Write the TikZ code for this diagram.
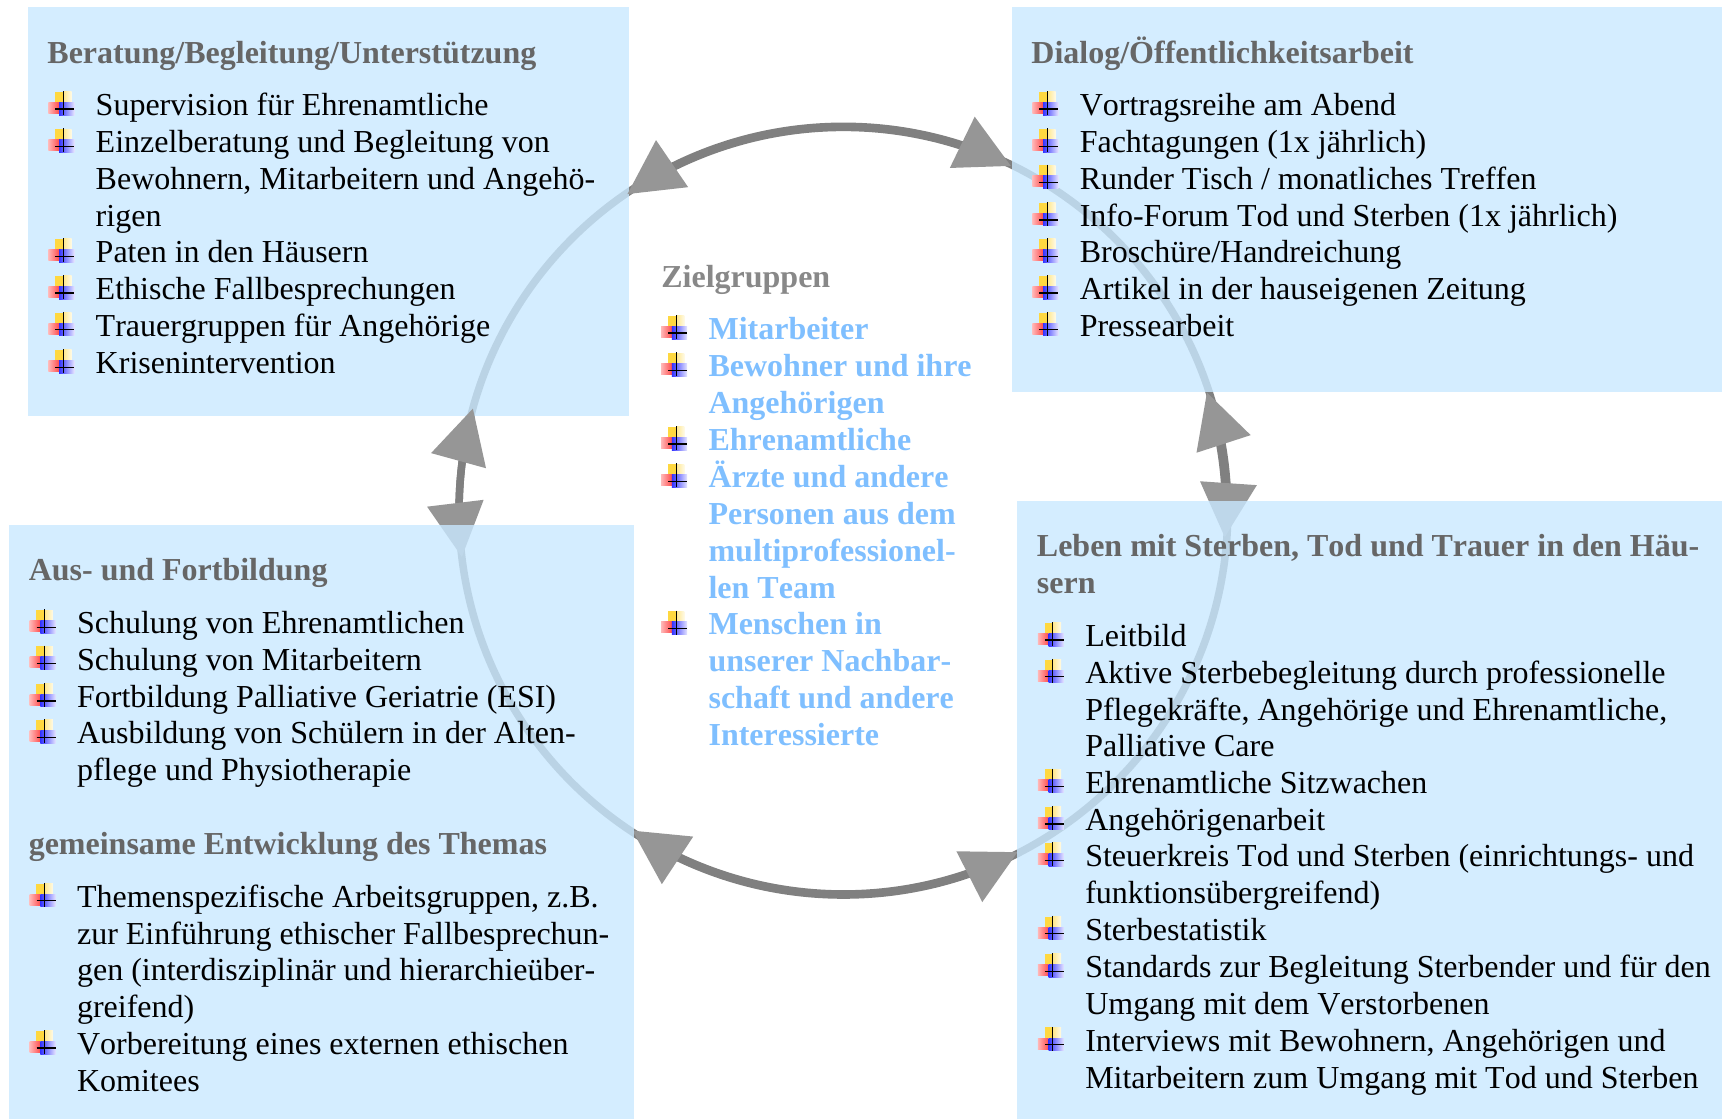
\documentclass[tikz,border=0pt]{standalone}
\usepackage{fontspec}
\setmainfont[Kerning=Off]{Liberation Serif}
\usetikzlibrary{arrows.meta,bending,fit}
\definecolor{boxfill}{HTML}{C9E8FF}
\definecolor{shaftgray}{HTML}{808080}
\definecolor{headgray}{HTML}{969696}
\definecolor{titlegray}{HTML}{666666}
\definecolor{ziel}{HTML}{888888}
\definecolor{zielblue}{HTML}{7FBFFF}
\definecolor{byel}{HTML}{FFD840}
\tikzset{
  x=1.0982pt,y=-1.0982pt,
  panel/.style={fill=boxfill,fill opacity=.8,draw=none,inner sep=0pt},
  ring/.style={draw=shaftgray,line width=7.5pt},
  conn/.style={draw=shaftgray,line width=7.5pt,arrows={Triangle[length=54pt,width=57pt,color=headgray,line width=0pt,flex=0]-Triangle[length=54pt,width=57pt,color=headgray,line width=0pt,flex=0]}},
  txt/.style={inner sep=0pt,anchor=north west,yshift=30pt,align=left,font=\fontsize{32}{36.8}\selectfont},
  head/.style={txt,font=\fontsize{32}{36.8}\selectfont\bfseries,text=titlegray},
  bul/.pic={
    \begin{scope}[shift={(-29.3,-5.7)},scale=.91]
      \fill[byel] (-8.3,-17.3) rectangle (0,-6.7);
      \shade[left color=byel!60!white,right color=byel!12!white] (0,-17.3) rectangle (8.3,-6.7);
      \shade[left color=red!28!white,right color=red!70!white] (-15,-6.7) rectangle (-4.3,4.3);
      \shade[left color=blue!80!white,right color=blue!10!white] (-4.3,-6.7) rectangle (11,6);
      \draw[black,line width=1.2pt] (0,-18) -- (0,6);
      \draw[black,line width=1.2pt] (-8,0) -- (11,0);
    \end{scope}
  }
}
\newcommand{\itm}[5][black]{%
  \pic at (#3,#4) {bul};
  \node[txt,text=#1] (#2) at (#3,#4) {\rule{0pt}{30pt}#5};
}
\newcommand{\ttl}[5][titlegray]{%
  \node[head,text=#1] (#2) at (#3,#4) {\rule{0pt}{30pt}#5};
}
\begin{document}
\begin{tikzpicture}
\useasboundingbox (0,0) rectangle (1568,1019);
\coordinate (ctr) at (768,465);
\draw[ring] (ctr) circle[radius=350];
\node[panel,fit={(25.5,6.4)(572.8,378.5)}] (tlbox) {};
\node[panel,fit={(921.5,6.4)(1568,356.7)}] (trbox) {};
\coordinate (t1) at ([shift={(-124.3:349)}]ctr);
\coordinate (r1) at ([shift={(-18:348)}]ctr);
\coordinate (b1) at ([shift={(63:349)}]ctr);
\coordinate (l1) at ([shift={(173.1:350)}]ctr);
\draw[conn] (t1) arc[start angle=-124.3,end angle=-64.1,radius=349];
\draw[conn] (r1) arc[start angle=-18,end angle=3.9,radius=349];
\draw[conn] (b1) arc[start angle=63,end angle=123.4,radius=349];
\draw[conn] (l1) arc[start angle=173.1,end angle=195.4,radius=350];
\node[panel,fit={(8,478)(577,1019)}] (blbox) {};
\node[panel,fit={(926,456.3)(1568,1019)}] (brbox) {};
% top left
\ttl{tlt}{43}{58}{Beratung/Begleitung/Unterstützung}
\itm{tla}{87}{105}{Supervision für Ehrenamtliche}
\itm{tlb}{87}{139}{Einzelberatung und Begleitung von\\Bewohnern, Mitarbeitern und Angehö-\\rigen}
\itm{tlc}{87}{239}{Paten in den Häusern}
\itm{tld}{87}{272.5}{Ethische Fallbesprechungen}
\itm{tle}{87}{306}{Trauergruppen für Angehörige}
\itm{tlf}{87}{340}{Krisenintervention}
% top right
\ttl{trt}{939}{58}{Dialog/Öffentlichkeitsarbeit}
\itm{tra}{983}{105}{Vortragsreihe am Abend}
\itm{trb}{983}{139}{Fachtagungen (1x jährlich)}
\itm{trc}{983}{172}{Runder Tisch / monatliches Treffen}
\itm{trd}{983}{206}{Info-Forum Tod und Sterben (1x jährlich)}
\itm{tre}{983}{239}{Broschüre/Handreichung}
\itm{trf}{983}{272.5}{Artikel in der hauseigenen Zeitung}
\itm{trg}{983}{306}{Pressearbeit}
% centre
\ttl[ziel]{zt}{602}{262}{Zielgruppen}
\itm[zielblue]{za}{645}{309}{\textbf{Mitarbeiter}}
\itm[zielblue]{zb}{645}{343}{\textbf{Bewohner und ihre}\\\textbf{Angehörigen}}
\itm[zielblue]{zc}{645}{410}{\textbf{Ehrenamtliche}}
\itm[zielblue]{zd}{645}{444}{\textbf{Ärzte und andere}\\\textbf{Personen aus dem}\\\textbf{multiprofessionel-}\\\textbf{len Team}}
\itm[zielblue]{ze}{645}{578}{\textbf{Menschen in}\\\textbf{unserer Nachbar-}\\\textbf{schaft und andere}\\\textbf{Interessierte}}
% bottom left
\ttl{blt}{26}{528}{Aus- und Fortbildung}
\itm{bla}{70}{577}{Schulung von Ehrenamtlichen}
\itm{blb}{70}{610}{Schulung von Mitarbeitern}
\itm{blc}{70}{644}{Fortbildung Palliative Geriatrie (ESI)}
\itm{bld}{70}{677}{Ausbildung von Schülern in der Alten-\\pflege und Physiotherapie}
\ttl{blu}{26}{778}{gemeinsame Entwicklung des Themas}
\itm{ble}{70}{826}{Themenspezifische Arbeitsgruppen, z.B.\\zur Einführung ethischer Fallbesprechun-\\gen (interdisziplinär und hierarchieüber-\\greifend)}
\itm{blf}{70}{960}{Vorbereitung eines externen ethischen\\Komitees}
% bottom right
\ttl{brt}{944}{506.5}{Leben mit Sterben, Tod und Trauer in den Häu-\\sern}
\itm{bra}{988}{588.5}{Leitbild}
\itm{brb}{988}{622}{Aktive Sterbebegleitung durch professionelle\\Pflegekräfte, Angehörige und Ehrenamtliche,\\Palliative Care}
\itm{brc}{988}{722}{Ehrenamtliche Sitzwachen}
\itm{brd}{988}{756}{Angehörigenarbeit}
\itm{bre}{988}{789}{Steuerkreis Tod und Sterben (einrichtungs- und\\funktionsübergreifend)}
\itm{brf}{988}{856}{Sterbestatistik}
\itm{brg}{988}{890}{Standards zur Begleitung Sterbender und für den\\Umgang mit dem Verstorbenen}
\itm{brh}{988}{957}{Interviews mit Bewohnern, Angehörigen und\\Mitarbeitern zum Umgang mit Tod und Sterben}
\end{tikzpicture}
\end{document}
